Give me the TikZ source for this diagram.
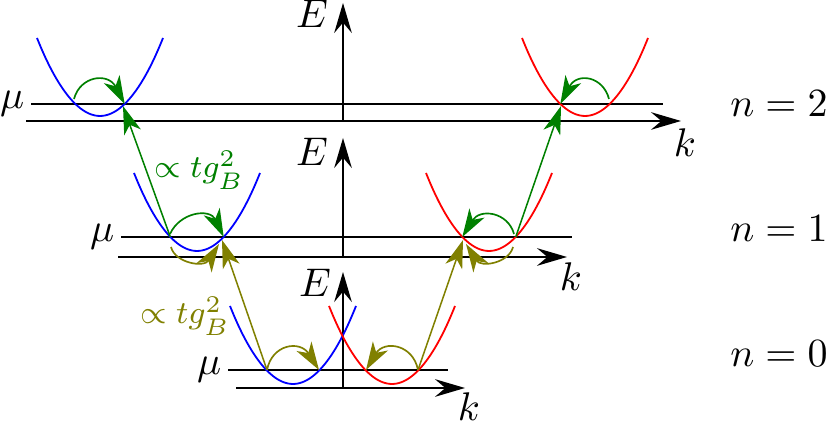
\documentclass[tikz,border=0pt]{standalone}
\usetikzlibrary{arrows.meta}
\definecolor{mygreen}{RGB}{0,128,0}
\definecolor{myolive}{RGB}{128,128,0}
\begin{document}
\begin{tikzpicture}[x=0.25pt,y=-0.25pt,
  axisline/.style={line width=0.55pt,-{Stealth[length=7.5pt,width=4.4pt,inset=2.6pt]}},
  levelline/.style={line width=0.5pt},
  bandline/.style={line width=0.45pt},
  hop/.style={line width=0.42pt,-{Stealth[length=7pt,width=4.4pt,inset=2pt]}},
  transline/.style={line width=0.38pt,-{Stealth[length=7pt,width=4.4pt,inset=2pt]}},
  lbl/.style={inner sep=0pt},
  mulbl/.style={anchor=east,inner sep=1.5pt}]
\useasboundingbox (0,0) rectangle (830,423);

% ---------- coordinates ----------
% top panel (n=2)
\coordinate (t2mus) at (31,104);   \coordinate (t2mue) at (663,104);
\coordinate (t2ks)  at (26,121);   \coordinate (t2ke)  at (681,121);
\coordinate (t2eb)  at (343,121);  \coordinate (t2et)  at (343,3);
\coordinate (t2bl)  at (75.3,104); \coordinate (t2br)  at (124.7,104);
\coordinate (t2rl)  at (560.3,104);\coordinate (t2rr)  at (609.7,104);
% middle panel (n=1)
\coordinate (m1mus) at (121,237);  \coordinate (m1mue) at (572,237);
\coordinate (m1ks)  at (118,257);  \coordinate (m1ke)  at (567,257);
\coordinate (m1eb)  at (343,257);  \coordinate (m1et)  at (343,138);
\coordinate (m1bl)  at (170.3,237);\coordinate (m1br)  at (223.7,237);
\coordinate (m1rl)  at (462.3,237);\coordinate (m1rr)  at (515.7,237);
% bottom panel (n=0)
\coordinate (b0mus) at (228,370);  \coordinate (b0mue) at (448,370);
\coordinate (b0ks)  at (236,388);  \coordinate (b0ke)  at (465,388);
\coordinate (b0eb)  at (343,388);  \coordinate (b0et)  at (343,272);
\coordinate (b0bl)  at (267,370);  \coordinate (b0br)  at (319,370);
\coordinate (b0rl)  at (366,370);  \coordinate (b0rr)  at (418,370);

% ---------- axes and levels ----------
\draw[levelline] (t2mus) -- (t2mue);
\draw[axisline] (t2ks) -- (t2ke);
\draw[axisline] (t2eb) -- (t2et);
\draw[levelline] (m1mus) -- (m1mue);
\draw[axisline] (m1ks) -- (m1ke);
\draw[axisline] (m1eb) -- (m1et);
\draw[levelline] (b0mus) -- (b0mue);
\draw[axisline] (b0ks) -- (b0ke);
\draw[axisline] (b0eb) -- (b0et);

% ---------- bands ----------
\draw[bandline,blue] (37,38) parabola bend (100,116) (163,38);
\draw[bandline,red]  (522,38) parabola bend (585,116) (648,38);
\draw[bandline,blue] (134,173) parabola bend (197,251) (260,173);
\draw[bandline,red]  (426,173) parabola bend (489,251) (552,173);
\draw[bandline,blue] (230,306) parabola bend (293,384) (356,306);
\draw[bandline,red]  (329,306) parabola bend (392,384) (455,306);

% ---------- hops within a level ----------
\coordinate (h1s) at (74,99);
\draw[hop,mygreen] (h1s) .. controls (80,76) and (108,72) .. (t2br);
\coordinate (h2s) at (609,99);
\draw[hop,mygreen] (h2s) .. controls (603,76) and (577,72) .. (t2rl);
\coordinate (h3s) at (170,234);
\draw[hop,mygreen] (h3s) .. controls (180,212) and (210,208) .. (m1br);
\coordinate (h4s) at (514,234);
\draw[hop,mygreen] (h4s) .. controls (508,212) and (480,208) .. (m1rl);
\coordinate (h5s) at (171,247); \coordinate (h5e) at (219,244);
\draw[hop,myolive] (h5s) .. controls (175,263) and (204,268) .. (h5e);
\coordinate (h6s) at (513,247); \coordinate (h6e) at (466,244);
\draw[hop,myolive] (h6s) .. controls (509,263) and (481,268) .. (h6e);
\draw[hop,myolive] (b0bl) .. controls (272,344) and (300,340) .. (b0br);
\draw[hop,myolive] (b0rr) .. controls (413,344) and (384,340) .. (b0rl);

% ---------- transitions between levels ----------
\coordinate (g1e) at (123,106);
\draw[transline,mygreen] (m1bl) -- (g1e);
\coordinate (g2e) at (561,106);
\draw[transline,mygreen] (m1rr) -- (g2e);
\coordinate (o1e) at (222,240);
\draw[transline,myolive] (b0bl) -- (o1e);
\coordinate (o2e) at (463,240);
\draw[transline,myolive] (b0rr) -- (o2e);

% ---------- labels ----------
\node[mulbl] (mu2) at (t2mus) {$\mu$};
\node[mulbl] (mu1) at (m1mus) {$\mu$};
\node[mulbl] (mu0) at (b0mus) {$\mu$};
\node[lbl,anchor=base] (e2) at (312,28) {$E$};
\node[lbl,anchor=base] (e1) at (312,166) {$E$};
\node[lbl,anchor=base] (e0) at (315,297) {$E$};
\node[lbl,anchor=base] (k2) at (685,157) {$k$};
\node[lbl,anchor=base] (k1) at (571,291) {$k$};
\node[lbl,anchor=base] (k0) at (469,421) {$k$};
\node[lbl,anchor=base] (n2) at (779,117) {$n=2$};
\node[lbl,anchor=base] (n1) at (779,242) {$n=1$};
\node[lbl,anchor=base] (n0) at (779,367) {$n=0$};
\node[lbl,text=mygreen,font=\footnotesize] (rg) at (199,170) {$\propto tg_B^2$};
\node[lbl,text=myolive,font=\footnotesize] (ro) at (185,316) {$\propto tg_B^2$};
\end{tikzpicture}
\end{document}
